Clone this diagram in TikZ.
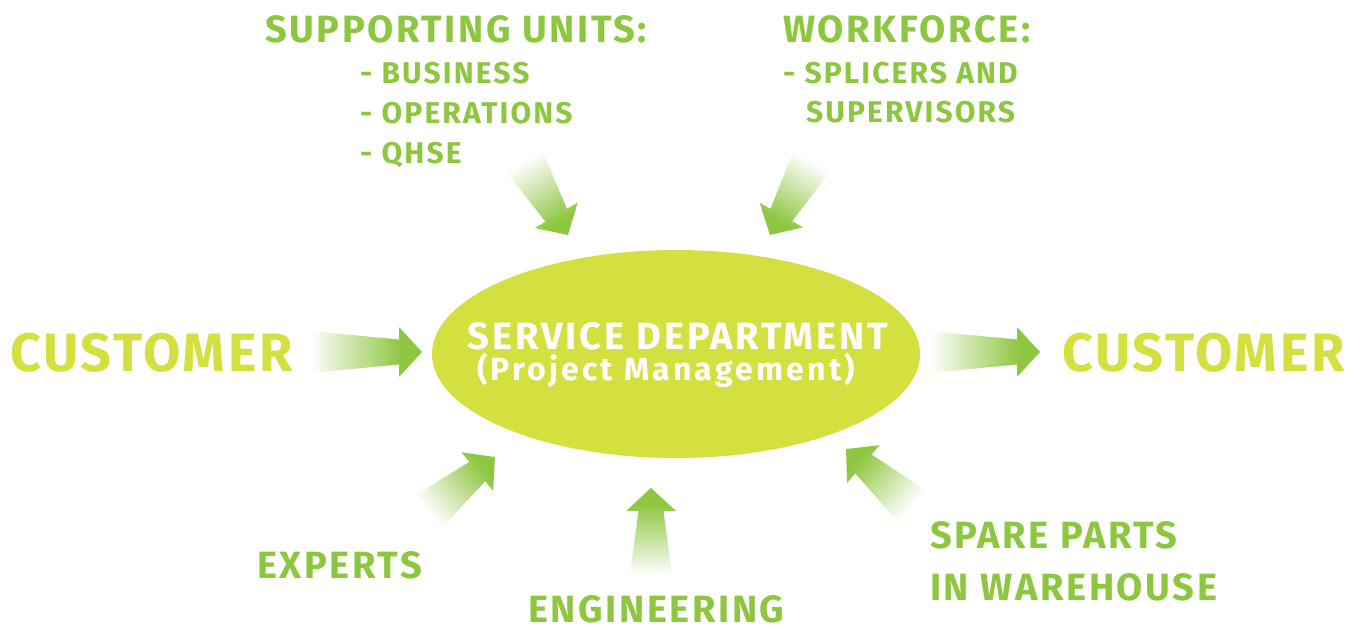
\documentclass[tikz,border=0pt]{standalone}
\usepackage{fontspec}
\setmainfont{Fira Sans}
\usetikzlibrary{shapes.geometric}
\definecolor{ag}{HTML}{8DC63F}
\definecolor{yg}{HTML}{D4E03F}
\pgfdeclarehorizontalshading{garrowshade}{100bp}{color(0bp)=(white); color(25bp)=(white); color(66bp)=(ag); color(100bp)=(ag)}
\newcommand\garrow[2]{%
  \pgfpointdiff{\pgfpointanchor{#1}{center}}{\pgfpointanchor{#2}{center}}%
  \pgfgetlastxy{\gax}{\gay}%
  \pgfmathsetmacro\garrowang{atan2(\gay,\gax)}%
  \pgfmathsetmacro\garrowlen{veclen(\gax,\gay)}%
  \begin{scope}[transform canvas={shift={(#1)},rotate=\garrowang}]
    \shade[shading=garrowshade] (0,-21) -- (\garrowlen-23,-12.5) -- (\garrowlen-23,-25) -- (\garrowlen,0)
      -- (\garrowlen-23,25) -- (\garrowlen-23,12.5) -- (0,21) -- cycle;
  \end{scope}}
\tikzset{
  hd/.style={text=ag, font=\bfseries\fontsize{38}{38}\selectfont\addfontfeature{LetterSpace=6.8}, inner sep=0pt, anchor=base west},
  sub/.style={text=ag, font=\bfseries\fontsize{30}{30}\selectfont\addfontfeature{LetterSpace=7}, inner sep=0pt, anchor=base west},
  cust/.style={text=yg, font=\bfseries\fontsize{54}{54}\selectfont\addfontfeature{LetterSpace=5}, inner sep=0pt, anchor=base west},
}
\begin{document}
\begin{tikzpicture}[x=1pt,y=1pt]
\useasboundingbox (0,0) rectangle (1361,-630);
% centre
\node[ellipse, fill=yg, minimum width=488, minimum height=208, inner sep=0pt] (sd) at (676,-354) {};
\node[text=white, font=\bfseries\fontsize{38}{38}\selectfont\addfontfeature{LetterSpace=7.6}, inner sep=0pt, anchor=base] (sdt) at (678,-349) {SERVICE DEPARTMENT};
\node[text=white, font=\bfseries\fontsize{32}{32}\selectfont\addfontfeature{LetterSpace=10}, inner sep=0pt, anchor=base] (sdp) at (666,-380) {(Project Management)};
% labels
\node[hd] (su) at (265,-42) {SUPPORTING UNITS:};
\node[sub] (su1) at (360,-83) {- BUSINESS};
\node[sub] (su2) at (360,-123) {- OPERATIONS};
\node[sub] (su3) at (360,-163) {- QHSE};
\node[hd] (wf) at (783,-42) {WORKFORCE:};
\node[sub] (wf1) at (783,-83) {- SPLICERS AND};
\node[sub] (wf2) at (806,-122) {SUPERVISORS};
\node[cust] (cl) at (10,-371) {CUSTOMER};
\node[cust] (cr) at (1062,-371) {CUSTOMER};
\node[hd] (ex) at (257,-578) {EXPERTS};
\node[hd] (en) at (528,-622) {ENGINEERING};
\node[hd] (sp1) at (930,-548) {SPARE PARTS};
\node[hd] (sp2) at (930,-600) {IN WAREHOUSE};
% arrow ends
\coordinate (aLt) at (310,-352); \coordinate (aLh) at (422,-352);
\coordinate (aRt) at (930,-352); \coordinate (aRh) at (1040,-352);
\coordinate (aTLt) at (524,-161); \coordinate (aTLh) at (568,-235);
\coordinate (aTRt) at (812,-161); \coordinate (aTRh) at (770,-235);
\coordinate (aBLt) at (428,-512); \coordinate (aBLh) at (495,-457);
\coordinate (aBCt) at (651,-575); \coordinate (aBCh) at (651,-488);
\coordinate (aBRt) at (912,-506); \coordinate (aBRh) at (846,-449);
\garrow{aLt}{aLh}
\garrow{aRt}{aRh}
\garrow{aTLt}{aTLh}
\garrow{aTRt}{aTRh}
\garrow{aBLt}{aBLh}
\garrow{aBCt}{aBCh}
\garrow{aBRt}{aBRh}
\end{tikzpicture}
\end{document}
